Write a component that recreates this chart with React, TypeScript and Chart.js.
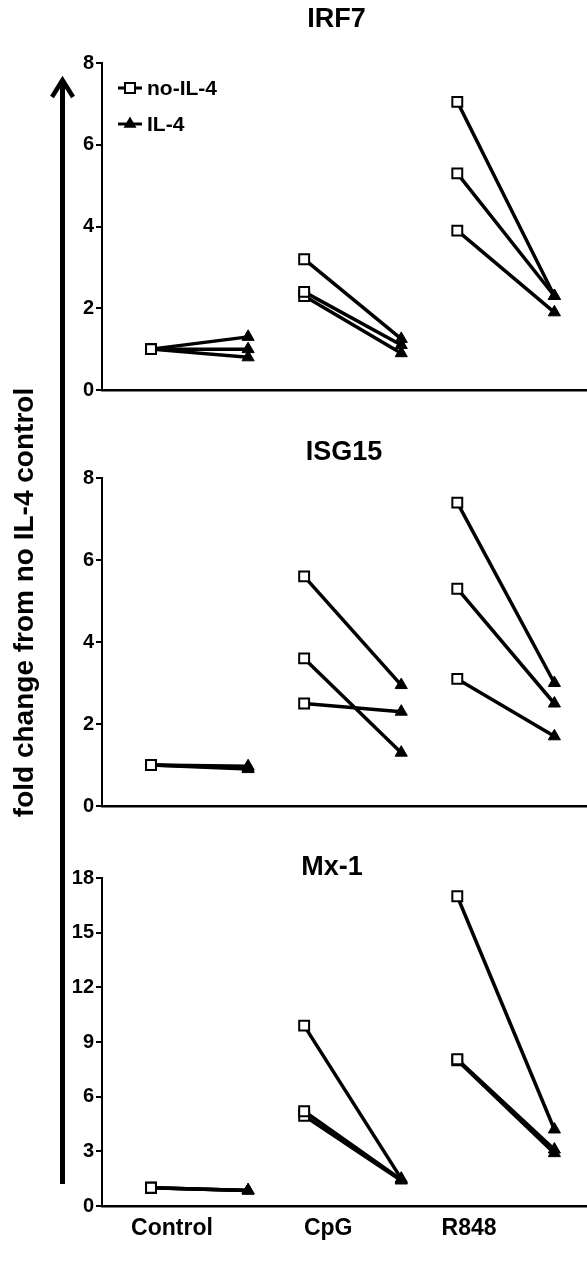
import React, { useEffect, useRef } from 'react';
import { Chart, registerables } from 'chart.js';

Chart.register(...registerables);

// ---------- data ----------
const categories = ['Control', 'CpG', 'R848'];
const seriesNames = ['no-IL-4', 'IL-4'];
const panelTitles = ['IRF7', 'ISG15', 'Mx-1'];
const yAxisTitle = 'fold change from no IL-4 control';

// one entry per category, three donors each
const irf7NoIL4 = [[1.0, 1.0, 1.0], [3.2, 2.4, 2.3], [7.05, 5.3, 3.9]];
const irf7IL4 = [[1.3, 1.0, 0.8], [1.25, 1.1, 0.9], [2.3, 2.3, 1.9]];

const isg15NoIL4 = [[1.0, 1.0, 1.0], [5.6, 3.6, 2.5], [7.4, 5.3, 3.1]];
const isg15IL4 = [[0.97, 0.93, 0.9], [2.95, 1.3, 2.3], [3.0, 2.5, 1.7]];

const mx1NoIL4 = [[1.0, 1.0, 1.0], [9.9, 5.2, 4.95], [17.0, 8.05, 8.0]];
const mx1IL4 = [[0.85, 0.85, 0.85], [1.5, 1.45, 1.4], [4.2, 3.1, 2.9]];

const irf7Ticks = [0, 2, 4, 6, 8];
const isg15Ticks = [0, 2, 4, 6, 8];
const mx1Ticks = [0, 3, 6, 9, 12, 15, 18];

// ---------- layout constants ----------
const X_MIN = -0.637;
const X_MAX = 2.53;
const PAIR_OFFSET = 0.317;
const CATEGORY_LABEL_POS = [-0.18, 0.84, 1.76];
const FONT = "'Liberation Sans', Arial, Helvetica, sans-serif";

type PanelProps = {
  title: string;
  noIL4: number[][];
  il4: number[][];
  ticks: number[];
  top: number;
  height: number;
  padTop: number;
  padBottom: number;
  xHeight: number;
  showCategories: boolean;
  showLegend: boolean;
  titleX: number;
  titleY: number;
};

function Panel(p: PanelProps) {
  const ref = useRef<HTMLCanvasElement | null>(null);

  useEffect(() => {
    if (!ref.current) return;
    const datasets: any[] = [];
    categories.forEach((_, ci) => {
      p.noIL4[ci].forEach((v, ri) => {
        datasets.push({
          label: categories[ci] + ' ' + ri,
          data: [
            { x: ci - PAIR_OFFSET, y: v },
            { x: ci + PAIR_OFFSET, y: p.il4[ci][ri] },
          ],
          showLine: true,
          borderColor: '#000',
          borderWidth: 3.5,
          pointStyle: ['rect', 'triangle'],
          pointRadius: 7,
          pointHoverRadius: 7,
          pointBackgroundColor: ['#fff', '#000'],
          pointBorderColor: '#000',
          pointBorderWidth: [2, 1],
        });
      });
    });

    const decor = {
      id: 'decor',
      afterDraw(chart: any) {
        const ctx = chart.ctx;
        ctx.save();
        ctx.fillStyle = '#000';
        ctx.font = `bold 27px ${FONT}`;
        ctx.textAlign = 'center';
        ctx.textBaseline = 'middle';
        ctx.fillText(p.title, p.titleX, p.titleY);
        if (p.showLegend) {
          const lx = 130;
          const rows = [88, 124];
          rows.forEach((y, i) => {
            ctx.strokeStyle = '#000';
            ctx.lineWidth = 3;
            ctx.beginPath();
            ctx.moveTo(lx - 12, y);
            ctx.lineTo(lx + 12, y);
            ctx.stroke();
            if (i === 0) {
              ctx.fillStyle = '#fff';
              ctx.lineWidth = 2;
              ctx.fillRect(lx - 5, y - 5, 10, 10);
              ctx.strokeRect(lx - 5, y - 5, 10, 10);
            } else {
              const r = 7.5;
              ctx.fillStyle = '#000';
              ctx.beginPath();
              ctx.moveTo(lx, y - r);
              ctx.lineTo(lx + r * 0.866, y + r / 2);
              ctx.lineTo(lx - r * 0.866, y + r / 2);
              ctx.closePath();
              ctx.fill();
            }
            ctx.fillStyle = '#000';
            ctx.font = `bold 21px ${FONT}`;
            ctx.textAlign = 'left';
            ctx.textBaseline = 'middle';
            ctx.fillText(seriesNames[i], 147, y + 1);
          });
        }
        ctx.restore();
      },
    };

    const chart = new Chart(ref.current, {
      type: 'scatter',
      data: { datasets },
      plugins: [decor],
      options: {
        animation: false,
        responsive: false,
        devicePixelRatio: 1,
        layout: {
          autoPadding: false,
          padding: { top: p.padTop, bottom: p.padBottom, left: 0, right: 0 },
        },
        plugins: { legend: { display: false }, tooltip: { enabled: false }, title: { display: false } },
        scales: {
          x: {
            type: 'linear',
            min: X_MIN,
            max: X_MAX,
            grid: { display: false, drawTicks: false },
            border: { display: true, color: '#000', width: 2.5 },
            afterBuildTicks: (s: any) => {
              s.ticks = CATEGORY_LABEL_POS.map((v) => ({ value: v }));
            },
            afterFit: (s: any) => {
              s.height = p.xHeight;
            },
            ticks: {
              display: p.showCategories,
              autoSkip: false,
              maxRotation: 0,
              minRotation: 0,
              padding: 9,
              color: '#000',
              font: { family: FONT, weight: 'bold', size: 23 },
              callback: (_v: any, i: number) => categories[i],
            },
          },
          y: {
            type: 'linear',
            min: p.ticks[0],
            max: p.ticks[p.ticks.length - 1],
            afterBuildTicks: (s: any) => {
              s.ticks = p.ticks.map((v) => ({ value: v }));
            },
            afterFit: (s: any) => {
              s.width = 102;
            },
            grid: {
              display: true,
              drawOnChartArea: false,
              drawTicks: true,
              tickLength: 6,
              color: '#000',
              lineWidth: 2,
            },
            border: { display: true, color: '#000', width: 2 },
            ticks: {
              color: '#000',
              padding: 2,
              font: { family: FONT, weight: 'bold', size: 20 },
            },
          },
        },
      } as any,
    });
    return () => chart.destroy();
  }, []);

  return (
    <canvas
      ref={ref}
      width={587}
      height={p.height}
      style={{ position: 'absolute', left: 0, top: p.top, width: 587, height: p.height }}
    />
  );
}

export default function App() {
  return (
    <div style={{ position: 'absolute', left: 0, top: 0, width: 587, height: 1261, background: '#fff' }}>
      <Panel
        title={panelTitles[0]}
        noIL4={irf7NoIL4}
        il4={irf7IL4}
        ticks={irf7Ticks}
        top={0}
        height={420}
        padTop={63}
        padBottom={28}
        xHeight={2}
        showCategories={false}
        showLegend={true}
        titleX={336.5}
        titleY={20}
      />
      <Panel
        title={panelTitles[1]}
        noIL4={isg15NoIL4}
        il4={isg15IL4}
        ticks={isg15Ticks}
        top={420}
        height={400}
        padTop={58}
        padBottom={12}
        xHeight={2}
        showCategories={false}
        showLegend={false}
        titleX={344}
        titleY={33}
      />
      <Panel
        title={panelTitles[2]}
        noIL4={mx1NoIL4}
        il4={mx1IL4}
        ticks={mx1Ticks}
        top={820}
        height={441}
        padTop={58}
        padBottom={5}
        xHeight={50}
        showCategories={true}
        showLegend={false}
        titleX={332}
        titleY={48}
      />
      <svg
        width={587}
        height={1261}
        style={{ position: 'absolute', left: 0, top: 0, pointerEvents: 'none' }}
      >
        <line x1={62.5} y1={82} x2={62.5} y2={1184} stroke="#000" strokeWidth={5} />
        <polyline
          points="52,97 62.5,80 73,97"
          fill="none"
          stroke="#000"
          strokeWidth={4.5}
          strokeLinejoin="miter"
        />
        <text
          transform="translate(33,602.5) rotate(-90)"
          textAnchor="middle"
          fontFamily={FONT}
          fontWeight="bold"
          fontSize={28}
          fill="#000"
        >
          {yAxisTitle}
        </text>
      </svg>
    </div>
  );
}
